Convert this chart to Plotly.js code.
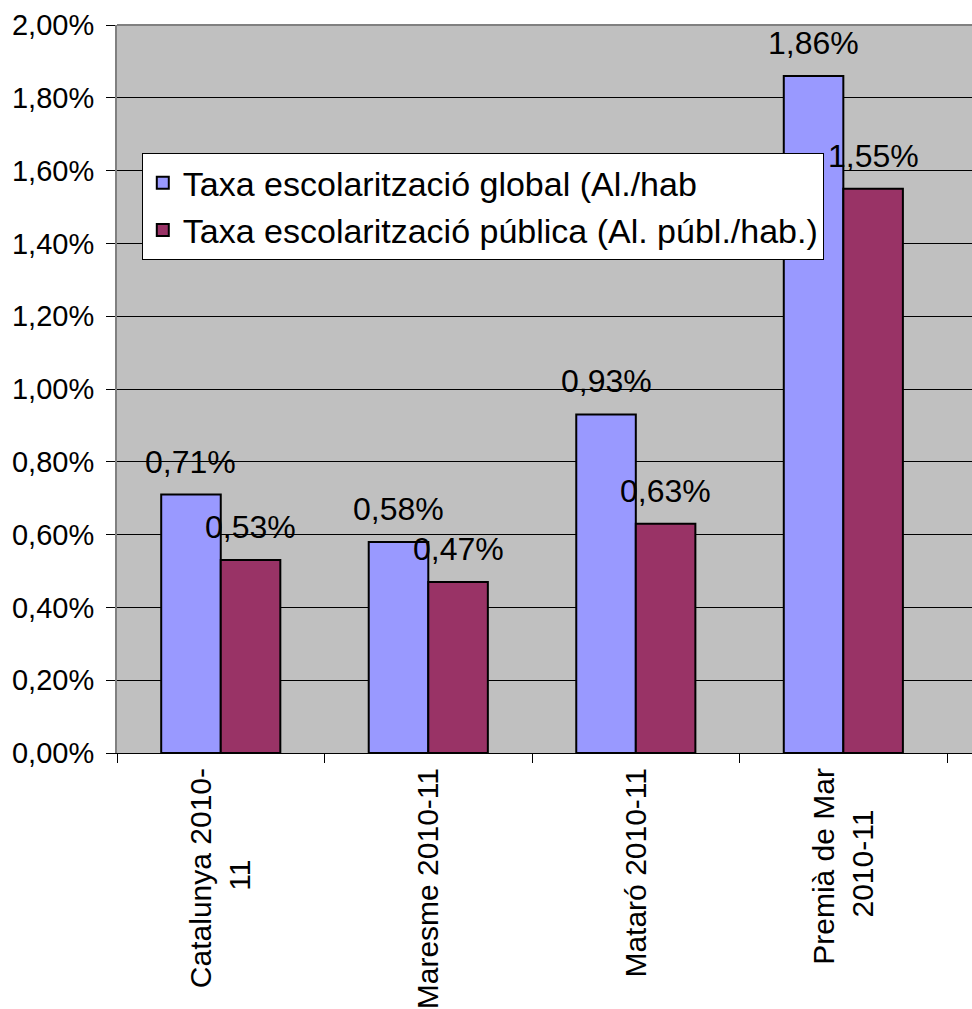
<!DOCTYPE html>
<html><head><meta charset="utf-8">
<script src="https://cdn.plot.ly/plotly-3.0.1.min.js"></script>
<style>html,body{margin:0;padding:0;background:#fff}</style>
</head><body><div id="chart" style="width:972px;height:1009px"></div>
<script>
const NB = "\u00A0";
const categories = ["Catalunya 2010-<br>11" + NB.repeat(11), "Maresme 2010-11", "Mataró 2010-11", "Premià de Mar<br>2010-11" + NB.repeat(5)];
const seriesNames = ["Taxa escolarització global (Al./hab", "Taxa escolarització pública (Al. públ./hab.)"];
const globalRate = [0.0071, 0.0058, 0.0093, 0.0186];
const publicRate = [0.0053, 0.0047, 0.0063, 0.0155];
const yTickVals = [0, 0.002, 0.004, 0.006, 0.008, 0.010, 0.012, 0.014, 0.016, 0.018, 0.020];

const font = "Liberation Sans, Arial, sans-serif";
const BARGAP = 0.426;
const fmt = v => (v * 100).toFixed(2).replace('.', ',') + '%';

const mk = (name, y, color) => ({
  type: 'bar', name, x: categories, y,
  marker: {color, line: {color: '#000', width: 2}},
  hoverinfo: 'skip'
});
const data = [mk(seriesNames[0], globalRate, '#9999ff'), mk(seriesNames[1], publicRate, '#993366')];

// value labels placed above each bar (offset by half a bar to each side of the category)
const plotW = 972 - 117;
const catPx = plotW / 4.12;
const barPx = catPx * (1 - BARGAP) / 2;
const annotations = [];
[globalRate, publicRate].forEach((arr, s) => {
  arr.forEach((v, i) => {
    annotations.push({
      x: categories[i], y: v, xref: 'x', yref: 'y', text: fmt(v), showarrow: false,
      xanchor: 'center', yanchor: 'bottom', xshift: (s === 0 ? -1 : 1) * barPx / 2, yshift: 13,
      font: {family: font, size: 32, color: '#000'}
    });
  });
});

const layout = {
  width: 972, height: 1009,
  margin: {l: 117, r: 0, t: 25, b: 256, pad: 0},
  separators: ',.',
  paper_bgcolor: '#fff', plot_bgcolor: '#c0c0c0',
  barmode: 'group', bargap: BARGAP, bargroupgap: 0,
  font: {family: font, color: '#000'},
  showlegend: true,
  legend: {x: 0.029, y: 0.824, xanchor: 'left', yanchor: 'top', bgcolor: '#fff',
    bordercolor: '#000', borderwidth: 1, font: {family: font, size: 34},
    tracegroupgap: 0, itemwidth: 30},
  xaxis: {type: 'category', range: [-0.5, 3.62], tickson: 'boundaries',
    ticks: 'outside', ticklen: 9, tickcolor: '#000', tickwidth: 1,
    showline: true, linecolor: '#000', linewidth: 1, showgrid: false, zeroline: false,
    tickangle: -90, tickfont: {family: font, size: 30}, ticklabelstandoff: 2, automargin: false},
  yaxis: {range: [0, 0.02], tickvals: yTickVals, tickformat: '.2%',
    ticks: 'outside', ticklen: 9, tickcolor: '#000', tickwidth: 1,
    showline: true, linecolor: '#808080', linewidth: 2,
    showgrid: true, gridcolor: '#000', gridwidth: 1, zeroline: false,
    tickfont: {family: font, size: 29}, ticklabelstandoff: 6, automargin: false},
  annotations,
  shapes: [{type: 'line', xref: 'paper', yref: 'paper', x0: 0, x1: 1, y0: 1, y1: 1,
    line: {color: '#808080', width: 2}, layer: 'above'}]
};
Plotly.newPlot('chart', data, layout, {displayModeBar: false, staticPlot: true});
</script></body></html>
